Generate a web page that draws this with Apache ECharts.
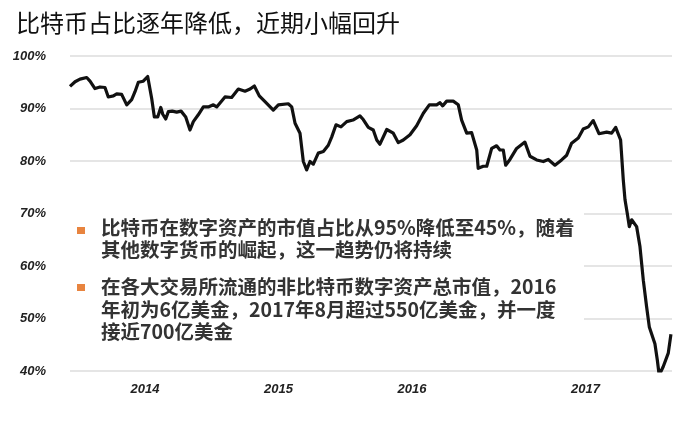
<!DOCTYPE html>
<html>
<head>
<meta charset="utf-8">
<script src="https://cdn.jsdelivr.net/npm/echarts@6/dist/echarts.min.js"></script>
<style>
html,body{margin:0;padding:0;background:#fff;}
#chart{width:692px;height:425px;}
</style>
</head>
<body>
<div id="chart"></div>
<script>
// x positions in decimal years, y = bitcoin share (%)
const years = [2013.438,2013.476,2013.513,2013.563,2013.588,2013.625,2013.663,2013.700,2013.725,2013.763,2013.788,2013.825,2013.863,2013.900,2013.925,2013.950,2013.987,2014.020,2014.030,2014.050,2014.070,2014.095,2014.118,2014.133,2014.155,2014.175,2014.204,2014.237,2014.270,2014.305,2014.337,2014.362,2014.399,2014.437,2014.474,2014.512,2014.537,2014.599,2014.649,2014.699,2014.749,2014.787,2014.819,2014.856,2014.899,2014.961,2014.999,2015.073,2015.099,2015.124,2015.161,2015.186,2015.211,2015.236,2015.261,2015.298,2015.336,2015.373,2015.399,2015.431,2015.468,2015.511,2015.558,2015.610,2015.635,2015.673,2015.710,2015.736,2015.760,2015.811,2015.860,2015.897,2015.935,2015.985,2016.035,2016.085,2016.130,2016.185,2016.210,2016.230,2016.260,2016.309,2016.347,2016.372,2016.410,2016.447,2016.485,2016.496,2016.534,2016.560,2016.597,2016.634,2016.659,2016.684,2016.702,2016.734,2016.784,2016.846,2016.884,2016.934,2016.984,2017.021,2017.071,2017.121,2017.159,2017.196,2017.246,2017.283,2017.321,2017.358,2017.401,2017.458,2017.496,2017.526,2017.563,2017.583,2017.596,2017.613,2017.628,2017.646,2017.683,2017.708,2017.733,2017.758,2017.778,2017.820,2017.838,2017.852,2017.882,2017.920,2017.940];
const btcShare = [94.2,95.1,95.6,95.9,95.2,93.8,94.1,94.0,92.2,92.4,92.8,92.7,90.7,91.7,93.2,95.0,95.2,96.1,95.8,91.9,88.4,88.4,90.2,88.9,88.0,89.4,89.5,89.3,89.5,88.4,85.9,87.5,88.8,90.3,90.3,90.7,90.3,92.2,92.1,93.7,93.3,93.7,94.3,92.4,91.3,89.7,90.7,90.9,90.3,87.2,85.3,79.9,78.3,79.9,79.4,81.5,81.8,83.0,84.6,86.9,86.5,87.5,87.8,88.6,87.9,86.4,85.9,84.0,83.2,86.0,85.3,83.5,84.0,85.0,86.7,89.1,90.7,90.7,91.1,90.5,91.4,91.4,90.7,87.8,85.3,85.4,82.1,78.6,79.0,79.0,82.4,82.9,82.1,82.1,79.2,80.3,82.4,83.6,80.9,80.2,79.9,80.3,79.2,80.2,81.1,83.4,84.4,86.1,86.5,87.7,85.2,85.5,85.3,86.4,84.0,76.4,72.6,70.0,67.5,68.8,67.5,63.7,57.3,52.2,48.4,45.2,42.1,39.2,40.8,43.4,47.0];
const xTickValues = [2014, 2015, 2016, 2017.3];
const xTickLabels = ['2014', '2015', '2016', '2017'];
const titleText = '比特币占比逐年降低，近期小幅回升';
const bullet1 = ['比特币在数字资产的市值占比从95%降低至45%，随着', '其他数字货币的崛起，这一趋势仍将持续'];
const bullet2 = ['在各大交易所流通的非比特币数字资产总市值，2016', '年初为6亿美金，2017年8月超过550亿美金，并一度', '接近700亿美金'];

const seriesData = years.map((y, i) => [y, btcShare[i]]);
const chart = echarts.init(document.getElementById('chart'));
const textFont = 'bold 19.5px "Noto Sans CJK SC"';
chart.setOption({
  backgroundColor: '#fff',
  animation: false,
  title: {
    text: titleText,
    left: 11, top: 6,
    textStyle: {fontFamily: 'Noto Sans CJK SC', fontSize: 24, fontWeight: 'normal', color: '#111'}
  },
  grid: {left: 70, right: 20, top: 56, bottom: 54},
  xAxis: {
    type: 'value',
    min: 2013.438, max: 2017.948,
    axisLine: {show: false},
    axisTick: {show: false},
    splitLine: {show: false},
    axisLabel: {
      customValues: xTickValues,
      formatter: v => {
        let best = 0;
        xTickValues.forEach((t, i) => { if (Math.abs(t - v) < Math.abs(xTickValues[best] - v)) best = i; });
        return xTickLabels[best];
      },
      margin: 12,
      fontFamily: 'Liberation Sans', fontSize: 13, fontWeight: 'bold', fontStyle: 'italic', color: '#222'
    }
  },
  yAxis: {
    type: 'value',
    min: 40, max: 100, interval: 10,
    axisLine: {show: false},
    axisTick: {show: false},
    splitLine: {lineStyle: {color: '#dcdcdc', width: 1.5}},
    axisLabel: {
      formatter: '{value}%', margin: 24,
      fontFamily: 'Liberation Sans', fontSize: 13, fontWeight: 'bold', fontStyle: 'italic', color: '#222'
    }
  },
  series: [{
    type: 'line',
    data: seriesData,
    showSymbol: false,
    lineStyle: {color: '#111', width: 3.2, join: 'round'},
    z: 5
  }],
  graphic: [
    {type: 'rect', left: 70, top: 197, shape: {width: 514, height: 148}, style: {fill: '#fff'}, z: 50},
    {type: 'rect', left: 77, top: 227, shape: {width: 8, height: 7}, style: {fill: '#e8843f'}, z: 60},
    {type: 'text', left: 101, top: 216, z: 60,
      style: {text: bullet1.join('\n'), font: textFont, lineHeight: 22.5, fill: '#333'}},
    {type: 'rect', left: 77, top: 284, shape: {width: 8, height: 7}, style: {fill: '#e8843f'}, z: 60},
    {type: 'text', left: 101, top: 275, z: 60,
      style: {text: bullet2.join('\n'), font: textFont, lineHeight: 22.8, fill: '#333'}}
  ]
});
</script>
</body>
</html>
